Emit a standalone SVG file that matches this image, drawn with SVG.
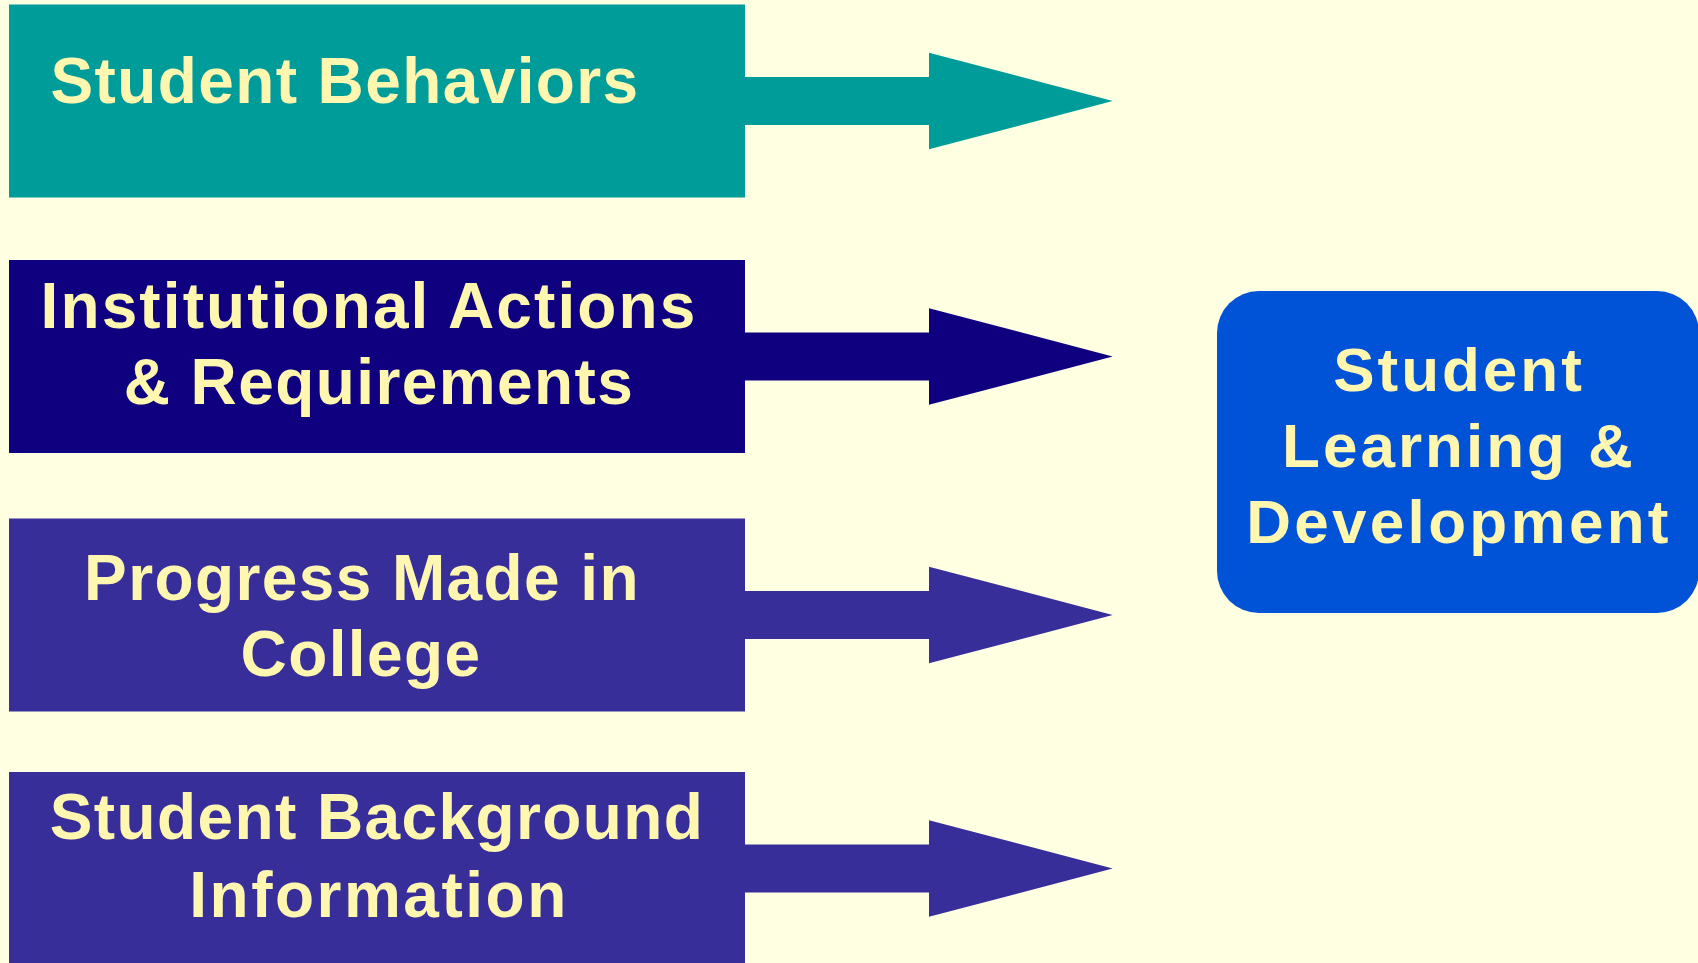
<svg xmlns="http://www.w3.org/2000/svg" width="1698" height="963" viewBox="0 0 1698 963">
<style>
.lbl{font-family:"Liberation Sans",Arial,sans-serif;font-weight:bold;font-size:64px;fill:#FFF6B0;text-anchor:middle;letter-spacing:1.4px}
.rlbl{font-family:"Liberation Sans",Arial,sans-serif;font-weight:bold;font-size:62px;fill:#FFF6B0;text-anchor:middle;letter-spacing:3px}
</style>
<rect x="0" y="0" width="1698" height="963" fill="#FFFFE1"/>
<g id="connectors">
<polygon fill="#009C99" points="744,77 929,77 929,52.7 1112.7,101 929,149.3 929,125 744,125"/>
<polygon fill="#0F007F" points="744,332.5 929,332.5 929,308.2 1112.7,356.5 929,404.8 929,380.5 744,380.5"/>
<polygon fill="#372E9A" points="744,591 929,591 929,566.7 1112.7,615 929,663.3 929,639 744,639"/>
<polygon fill="#372E9A" points="744,844.5 929,844.5 929,820.2 1112.7,868.5 929,916.8 929,892.5 744,892.5"/>
</g>
<g id="node-behaviors">
<rect x="9" y="4.5" width="736" height="193" fill="#009C99"/>
<text class="lbl" x="345" y="103">Student Behaviors</text>
</g>
<g id="node-institutional">
<rect x="9" y="260" width="736" height="193" fill="#0F007F"/>
<text class="lbl" x="369" y="328" style="letter-spacing:2.1px">Institutional Actions</text>
<text class="lbl" x="379" y="403.5">&amp; Requirements</text>
</g>
<g id="node-progress">
<rect x="9" y="518.5" width="736" height="193" fill="#372E9A"/>
<text class="lbl" x="362" y="599.5">Progress Made in</text>
<text class="lbl" x="361" y="676">College</text>
</g>
<g id="node-background">
<rect x="9" y="772" width="736" height="193" fill="#372E9A"/>
<text class="lbl" x="377" y="839">Student Background</text>
<text class="lbl" x="379" y="916.5" style="letter-spacing:2.5px">Information</text>
</g>
<g id="node-learning">
<rect x="1217" y="291" width="482" height="322" rx="42" ry="42" fill="#0052D6"/>
<text class="rlbl" x="1459" y="391">Student</text>
<text class="rlbl" x="1459" y="467.3">Learning &amp;</text>
<text class="rlbl" x="1459" y="543.3" style="letter-spacing:3.3px">Development</text>
</g>
</svg>
